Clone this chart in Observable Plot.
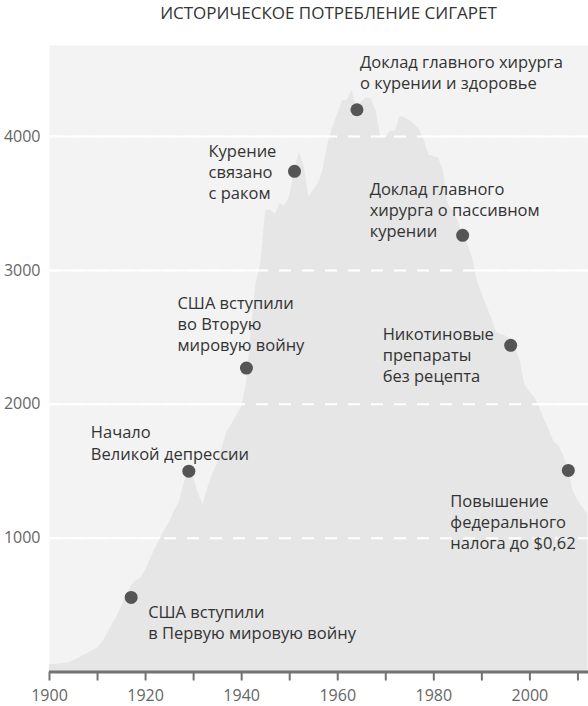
<!DOCTYPE html>
<html>
<head>
<meta charset="utf-8">
<script src="https://cdn.jsdelivr.net/npm/d3@7"></script>
<script src="https://cdn.jsdelivr.net/npm/@observablehq/plot@0.6"></script>
<style>
  html, body { margin: 0; padding: 0; background: #fff; }
  #chart svg { display: block; }
</style>
</head>
<body>
<div id="chart"></div>
<script>
// Annual adult per-capita cigarette consumption
const years = [
  1900, 1902, 1904, 1906, 1908, 1910, 1911, 1912, 1913, 1914, 1915, 1916, 1917, 1918, 1919,
  1920, 1921, 1922, 1923, 1924, 1925, 1926, 1927, 1928, 1929, 1930, 1931, 1932, 1933, 1934,
  1935, 1936, 1937, 1938, 1939, 1940, 1941, 1942, 1943, 1944, 1945, 1946, 1947, 1948, 1949,
  1950, 1951, 1952, 1953, 1954, 1955, 1956, 1957, 1958, 1959, 1960, 1961, 1962, 1963, 1964,
  1965, 1966, 1967, 1968, 1969, 1970, 1971, 1972, 1973, 1974, 1975, 1976, 1977, 1978, 1979,
  1980, 1981, 1982, 1983, 1984, 1985, 1986, 1987, 1988, 1989, 1990, 1991, 1992, 1993, 1994,
  1995, 1996, 1997, 1998, 1999, 2000, 2001, 2002, 2003, 2004, 2005, 2006, 2007, 2008, 2009,
  2010, 2011, 2012
];
const consumption = [
  55, 60, 70, 100, 140, 180, 220, 280, 350, 410, 490, 570, 640, 680, 700,
  760, 840, 920, 990, 1060, 1120, 1200, 1270, 1400, 1520, 1450, 1330, 1250, 1380, 1480,
  1560, 1680, 1800, 1850, 1920, 1980, 2150, 2550, 2900, 3050, 3450, 3450, 3420, 3500, 3480,
  3550, 3750, 3880, 3780, 3550, 3600, 3650, 3760, 3950, 4070, 4170, 4270, 4270, 4345, 4200,
  4260, 4290, 4280, 4190, 3990, 3990, 4040, 4040, 4150, 4140, 4120, 4090, 4050, 3970, 3860,
  3850, 3840, 3740, 3490, 3450, 3370, 3270, 3200, 3100, 2930, 2830, 2730, 2650, 2540, 2520,
  2510, 2480, 2420, 2320, 2140, 2090, 2050, 1980, 1890, 1810, 1720, 1690, 1620, 1520, 1350,
  1280, 1230, 1180
];

// Events
const eventYears  = [1917, 1929, 1941, 1951, 1964, 1986, 1996, 2008];
const eventValues = [557, 1500, 2270, 3740, 4200, 3262, 2440, 1506];
const eventLabels = [
  "США вступили\nв Первую мировую войну",
  "Начало\nВеликой депрессии",
  "США вступили\nво Вторую\nмировую войну",
  "Курение\nсвязано\nс раком",
  "Доклад главного хирурга\nо курении и здоровье",
  "Доклад главного\nхирурга о пассивном\nкурении",
  "Никотиновые\nпрепараты\nбез рецепта",
  "Повышение\nфедерального\nналога до $0,62"
];
// label offsets (pixels) relative to each event dot
const labelDx = [17, -98, -69, -86, 3, -93, -128, -118];
const labelDy = [24, -29, -45, 0, -38, -26, 9, 51];

const gridValues = [1000, 2000, 3000, 4000];
const tickYears = [1900, 1910, 1920, 1930, 1940, 1950, 1960, 1970, 1980, 1990, 2000, 2010];
const title = "ИСТОРИЧЕСКОЕ ПОТРЕБЛЕНИЕ СИГАРЕТ";

const data = years.map((y, i) => ({year: y, value: consumption[i]}));
const events = eventYears.map((y, i) => ({year: y, value: eventValues[i], label: eventLabels[i], dx: labelDx[i], dy: labelDy[i]}));

const font = "'Open Sans', 'DejaVu Sans', sans-serif";

const chart = Plot.plot({
  width: 588,
  height: 706,
  marginTop: 45,
  marginBottom: 34.5,
  marginLeft: 49,
  marginRight: 0,
  style: {fontFamily: font, background: "#fff", overflow: "visible"},
  x: {domain: [1900, 2012.2]},
  y: {domain: [0, 4680]},
  marks: [
    Plot.frame({fill: "#f3f3f3", stroke: null}),
    Plot.ruleY(gridValues, {stroke: "#fff", strokeWidth: 2}),
    Plot.areaY(data, {x: "year", y: "value", fill: "#e6e6e6"}),
    Plot.ruleY(gridValues, {stroke: "#fff", strokeWidth: 2, strokeDasharray: "12,11"}),
    Plot.ruleY([0], {stroke: "#737373", strokeWidth: 3}),
    Plot.axisX({
      ticks: tickYears,
      tickFormat: d => (d % 20 === 0 ? String(d) : ""),
      tickSize: 9,
      tickPadding: 9,
      strokeWidth: 2,
      stroke: "#737373",
      fill: "#666",
      fontSize: 16,
      label: null
    }),
    Plot.axisY({
      ticks: gridValues,
      tickSize: 0,
      tickPadding: 9,
      fill: "#666",
      fontSize: 16,
      label: null,
      tickFormat: d => String(d)
    }),
    Plot.dot(events, {x: "year", y: "value", r: 6.5, fill: "#555", stroke: null}),
    ...events.map(e => Plot.text([e], {
      x: "year", y: "value", text: "label",
      textAnchor: "start", lineAnchor: "middle",
      dx: e.dx, dy: e.dy,
      fontSize: 16.5, lineHeight: 1.28, fill: "#333"
    })),
    Plot.text([title], {
      frameAnchor: "top", dx: 9.5, dy: -32, lineAnchor: "middle",
      fontSize: 17, fill: "#333"
    })
  ]
});
document.getElementById("chart").appendChild(chart);
</script>
</body>
</html>
